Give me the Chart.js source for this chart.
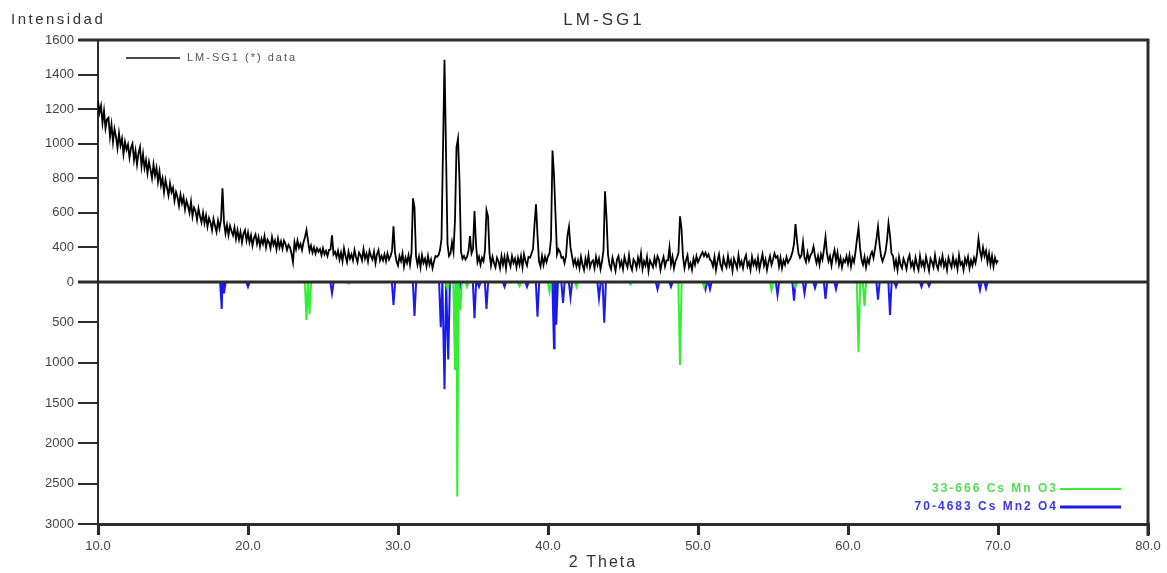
<!DOCTYPE html>
<html>
<head>
<meta charset="utf-8">
<title>LM-SG1</title>
<script src="https://cdn.jsdelivr.net/npm/chart.js@4.4.1/dist/chart.umd.min.js"></script>
<style>
    html, body { margin: 0; padding: 0; background: #fff; }
    #xrd { display: block; }
</style>
</head>
<body>
<canvas id="xrd" width="1167" height="573"></canvas>
<script>
// measured pattern, one value every 0.1 deg from 10.0 to 70.0
const thetaStart = 10.0;
const thetaStep = 0.1;
const lmsg1Counts = [
    1250, 1180, 1220, 1120, 1190, 1090, 1140, 1150, 1040, 1110,
    1010, 1085, 1040, 975, 1060, 990, 1030, 940, 1010, 965,
    995, 920, 975, 1000, 905, 960, 880, 945, 980, 870,
    940, 860, 905, 830, 895, 850, 800, 880, 815, 860,
    780, 840, 760, 800, 720, 790, 745, 700, 770, 720,
    745, 670, 720, 690, 640, 705, 655, 690, 620, 670,
    640, 600, 665, 580, 630, 610, 560, 625, 580, 545,
    600, 540, 585, 520, 570, 545, 500, 565, 525, 490,
    555, 510, 560, 742, 545, 480, 530, 470, 525, 495,
    470, 515, 450, 500, 445, 490, 430, 480, 500, 440,
    485, 430, 470, 410, 455, 475, 420, 460, 405, 450,
    420, 465, 400, 445, 430, 390, 460, 415, 440, 380,
    450, 400, 435, 385, 440, 420, 370, 415, 400, 330,
    230, 430, 380, 440, 395, 420, 370, 430, 460, 500,
    440, 360, 410, 340, 400, 330, 390, 350, 380, 310,
    390, 320, 360, 300, 370, 375, 470, 320, 350, 290,
    360, 260, 340, 240, 390, 300, 230, 350, 270, 320,
    250, 370, 290, 230, 340, 310, 250, 380, 270, 330,
    240, 360, 300, 260, 350, 220, 320, 370, 250, 300,
    250, 320, 240, 330, 260, 300, 360, 522, 340, 240,
    190, 300, 240, 330, 180, 280, 220, 310, 200, 340,
    684, 630, 300, 200, 290, 170, 310, 220, 270, 180,
    300, 200, 260, 160, 240, 300, 290, 310, 370, 450,
    970, 1485, 960, 420, 300, 330, 430, 350, 560, 980,
    1030, 790, 350, 270, 300, 260, 290, 360, 465, 330,
    380, 610, 420, 230, 290, 200, 280, 240, 370, 615,
    580, 330, 190, 290, 220, 170, 280, 240, 160, 300,
    200, 290, 160, 310, 240, 180, 300, 220, 270, 170,
    280, 200, 300, 170, 320, 240, 190, 290, 280, 330,
    380, 530, 650, 470, 240, 180, 300, 200, 290, 230,
    300, 330, 450, 960, 820, 590, 320, 380, 350, 280,
    290, 220, 300, 470, 520, 400, 300, 200, 260, 180,
    250, 160, 290, 200, 140, 270, 190, 310, 170, 230,
    250, 160, 290, 200, 270, 150, 240, 370, 725, 575,
    320, 200, 150, 280, 210, 130, 260, 300, 180, 240,
    150, 290, 220, 170, 310, 190, 140, 260, 230, 160,
    280, 200, 330, 150, 240, 190, 290, 130, 250, 210,
    170, 280, 200, 300, 260, 140, 230, 290, 180, 250,
    250, 400, 200, 290, 160, 240, 280, 340, 580, 510,
    290, 160, 250, 310, 170, 220, 140, 270, 200, 300,
    230, 270, 310, 345, 300, 340, 290, 320, 260, 240,
    180, 290, 140, 240, 320, 200, 150, 280, 210, 170,
    300, 190, 250, 130, 270, 220, 160, 310, 190, 240,
    160, 260, 310, 180, 230, 140, 290, 200, 250, 170,
    280, 150, 240, 320, 190, 260, 140, 230, 300, 200,
    260, 330, 280, 300, 180, 280, 160, 250, 200, 290,
    225, 255, 290, 350, 420, 535, 440, 330, 280, 310,
    430, 280, 230, 340, 250, 310, 340, 405, 300, 220,
    300, 200, 320, 260, 380, 460, 330, 240, 300, 190,
    300, 370, 250, 340, 200, 280, 170, 260, 230, 300,
    210, 310, 180, 280, 230, 350, 450, 515, 400, 260,
    200, 290, 170, 270, 220, 310, 350, 280, 380, 450,
    520, 420, 300, 240, 290, 350, 440, 540, 470, 330,
    300, 170, 250, 140, 290, 200, 160, 270, 220, 150,
    260, 310, 180, 230, 150, 280, 200, 140, 300, 190,
    240, 160, 290, 210, 130, 270, 230, 170, 310, 200,
    150, 260, 200, 300, 180, 240, 140, 280, 220, 170,
    290, 190, 250, 150, 310, 200, 230, 140, 270, 210,
    290, 160, 250, 190, 280, 220, 320, 450, 360, 280,
    400, 300, 360, 230, 330, 200, 300, 180, 280, 220,
    250
];

// reference card 33-666 (green)
const mno3Theta  = [23.9, 24.1, 26.7, 33.3, 33.8, 33.95, 34.15, 34.6, 38.1, 40.1, 41.9, 45.5, 48.8, 50.4, 54.9, 56.5, 60.7, 61.1];
const mno3Counts = [470, 400, 20, 90, 1090, 2660, 350, 60, 50, 120, 60, 30, 1030, 60, 100, 60, 870, 300];

// reference card 70-4683 (blue)
const mn2o4Theta  = [18.25, 18.4, 20.0, 25.6, 29.7, 31.1, 32.85, 33.1, 33.35, 34.1, 35.1, 35.4, 35.9, 37.1, 38.6,
                     39.3, 40.4, 40.55, 41.0, 41.5, 43.4, 43.75, 47.3, 48.2, 50.5, 50.8, 55.3, 56.4, 57.1, 57.8,
                     58.5, 59.2, 62.0, 62.8, 63.2, 64.9, 65.4, 68.8, 69.2];
const mn2o4Counts = [335, 140, 60, 140, 285, 420, 560, 1330, 960, 100, 450, 60, 335, 60, 60,
                     430, 820, 530, 260, 190, 200, 505, 90, 60, 90, 90, 160, 230, 140, 75,
                     210, 90, 220, 410, 60, 60, 50, 100, 80];

const upperTicks = [0, 400, 600, 800, 1000, 1200, 1400, 1600];
const lowerTicks = [500, 1000, 1500, 2000, 2500, 3000];
const thetaTicks = [10, 20, 30, 40, 50, 60, 70, 80];

// upper half goes tick by tick (equal spacing), lower half is linear down to 3000
function toAxis(v) {
    if (v < 0) return v / lowerTicks[lowerTicks.length - 1];
    const n = upperTicks.length - 1;
    for (let k = 0; k < n; k++) {
        if (v <= upperTicks[k + 1]) {
            return (k + (v - upperTicks[k]) / (upperTicks[k + 1] - upperTicks[k])) / n;
        }
    }
    return 1;
}

const yTickPos = [];
const yTickText = [];
lowerTicks.slice().reverse().forEach(function (t) {
    yTickPos.push(toAxis(-t));
    yTickText.push(String(t));
});
upperTicks.forEach(function (t) {
    yTickPos.push(toAxis(t));
    yTickText.push(String(t));
});

const measured = lmsg1Counts.map(function (c, i) {
    return { x: +(thetaStart + i * thetaStep).toFixed(1), y: toAxis(c) };
});

// each card line drawn as a narrow spike pointing down
function stickProfile(theta, counts) {
    const pts = [];
    theta.forEach(function (t, i) {
        pts.push({ x: t - 0.11, y: 0 }, { x: t, y: toAxis(-counts[i]) }, { x: t + 0.11, y: 0 });
    });
    return pts.sort(function (a, b) { return a.x - b.x; });
}

const ink = '#2b2b2b';

const framePlugin = {
    id: 'frame',
    afterDatasetsDraw(chart) {
        const ctx = chart.ctx;
        const a = chart.chartArea;
        const y0 = chart.scales.y.getPixelForValue(0);
        ctx.save();
        ctx.strokeStyle = ink;
        ctx.lineWidth = 3;
        ctx.beginPath();
        ctx.moveTo(a.left - 20, a.top);
        ctx.lineTo(a.right, a.top);
        ctx.lineTo(a.right, a.bottom + 12);
        ctx.moveTo(a.left - 20, y0);
        ctx.lineTo(a.right, y0);
        ctx.stroke();
        ctx.restore();
    },
    afterDraw(chart) {
        const ctx = chart.ctx;
        ctx.save();
        ctx.textBaseline = 'middle';

        ctx.fillStyle = '#333';
        ctx.font = '15px Arial';
        ctx.letterSpacing = '2.5px';
        ctx.textAlign = 'left';
        ctx.fillText('Intensidad', 11, 20);

        ctx.font = '17px Arial';
        ctx.letterSpacing = '3px';
        ctx.textAlign = 'center';
        ctx.fillText('LM-SG1', 604, 20);

        ctx.font = '16px Arial';
        ctx.letterSpacing = '2px';
        ctx.fillText('2 Theta', 603, 563);

        // legend, top left
        ctx.strokeStyle = '#111';
        ctx.lineWidth = 1.5;
        ctx.beginPath();
        ctx.moveTo(126, 58);
        ctx.lineTo(180, 58);
        ctx.stroke();
        ctx.fillStyle = '#555';
        ctx.font = '11px Arial';
        ctx.letterSpacing = '2px';
        ctx.textAlign = 'left';
        ctx.fillText('LM-SG1 (*) data', 187, 58);

        // legend, bottom right
        ctx.font = 'bold 12px Arial';
        ctx.letterSpacing = '2px';
        ctx.textAlign = 'right';
        ctx.fillStyle = '#55dd55';
        ctx.fillText('33-666 Cs Mn O3', 1058, 489);
        ctx.fillStyle = '#3838e8';
        ctx.fillText('70-4683 Cs Mn2 O4', 1058, 507);

        ctx.strokeStyle = '#33ee33';
        ctx.lineWidth = 2;
        ctx.beginPath();
        ctx.moveTo(1060, 489);
        ctx.lineTo(1121, 489);
        ctx.stroke();
        ctx.strokeStyle = '#1a1aee';
        ctx.lineWidth = 3;
        ctx.beginPath();
        ctx.moveTo(1060, 507);
        ctx.lineTo(1121, 507);
        ctx.stroke();
        ctx.restore();
    }
};

new Chart(document.getElementById('xrd'), {
    type: 'line',
    data: {
        datasets: [
            {
                label: 'LM-SG1 (*) data',
                data: measured,
                borderColor: '#000',
                borderWidth: 1.8,
                pointRadius: 0,
                tension: 0
            },
            {
                label: '33-666 Cs Mn O3',
                data: stickProfile(mno3Theta, mno3Counts),
                borderColor: '#33ee33',
                borderWidth: 2,
                pointRadius: 0,
                tension: 0
            },
            {
                label: '70-4683 Cs Mn2 O4',
                data: stickProfile(mn2o4Theta, mn2o4Counts),
                borderColor: '#1a1aee',
                borderWidth: 2,
                pointRadius: 0,
                tension: 0
            }
        ]
    },
    options: {
        responsive: false,
        animation: false,
        devicePixelRatio: 1,
        layout: { padding: { top: 40, right: 19, left: 0, bottom: 0 } },
        plugins: {
            legend: { display: false },
            tooltip: { enabled: false }
        },
        scales: {
            x: {
                type: 'linear',
                min: thetaTicks[0],
                max: thetaTicks[thetaTicks.length - 1],
                afterBuildTicks: function (axis) {
                    axis.ticks = thetaTicks.map(function (v) { return { value: v }; });
                },
                afterFit: function (axis) { axis.height = 49; },
                border: { display: true, color: ink, width: 3 },
                grid: { drawOnChartArea: false, drawTicks: true, tickLength: 11, color: ink, lineWidth: 3 },
                ticks: {
                    autoSkip: false,
                    maxRotation: 0,
                    padding: 4,
                    color: '#444',
                    font: { family: 'Arial', size: 13 },
                    callback: function (v) { return Number(v).toFixed(1); }
                }
            },
            y: {
                type: 'linear',
                min: -1,
                max: 1,
                afterBuildTicks: function (axis) {
                    axis.ticks = yTickPos.map(function (v) { return { value: v }; });
                },
                afterFit: function (axis) { axis.width = 98; },
                border: { display: true, color: ink, width: 2 },
                grid: { drawOnChartArea: false, drawTicks: true, tickLength: 20, color: ink, lineWidth: 2 },
                ticks: {
                    autoSkip: false,
                    padding: 4,
                    color: '#444',
                    font: { family: "'Liberation Sans Narrow', Arial", size: 13 },
                    callback: function (v, i) { return yTickText[i]; }
                }
            }
        }
    },
    plugins: [framePlugin]
});
</script>
</body>
</html>
